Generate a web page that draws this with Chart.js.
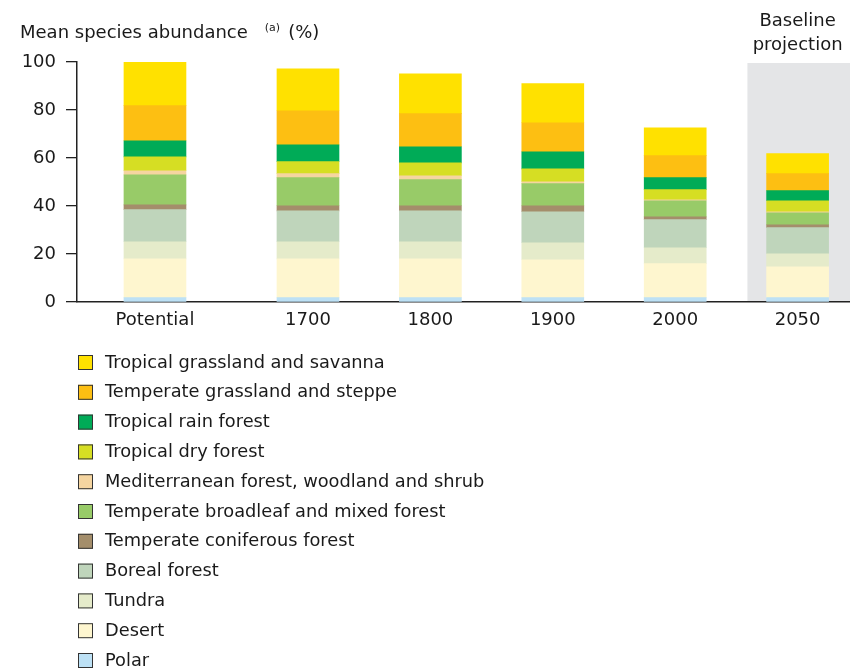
<!DOCTYPE html>
<html>
<head>
<meta charset="utf-8">
<script src="https://cdn.jsdelivr.net/npm/chart.js@4/dist/chart.umd.min.js"></script>
<style>
  body { margin: 0; background: #fff; }
  #wrap { width: 850px; height: 668px; }
</style>
</head>
<body>
<div id="wrap"><canvas id="msaChart" width="850" height="668"></canvas></div>
<script>
// Periods on the x axis
const categories = ["Potential", "1700", "1800", "1900", "2000", "2050"];

// Mean species abundance (%) per biome, bottom of the stack first
const polar       = [1.8, 1.8, 1.8, 1.8, 1.8, 1.8];
const desert      = [16.2, 16.2, 16.2, 15.8, 14.2, 12.9];
const tundra      = [7.1, 7.1, 7.1, 7.1, 6.6, 5.4];
const boreal      = [13.4, 12.9, 12.9, 12.9, 11.7, 10.9];
const coniferous  = [2.0, 2.1, 2.1, 2.5, 1.2, 1.2];
const broadleaf   = [12.5, 11.7, 10.9, 9.2, 6.7, 5.0];
const mediterran  = [1.7, 1.7, 1.6, 0.8, 0.4, 0.4];
const dryForest   = [5.8, 5.0, 5.4, 5.4, 4.2, 4.6];
const rainForest  = [6.7, 7.0, 6.7, 7.1, 5.0, 4.2];
const tempGrass   = [14.6, 14.2, 13.8, 12.1, 9.2, 7.1];
const tropGrass   = [18.2, 17.5, 16.6, 16.3, 11.6, 8.3];

const yTicks = [0, 20, 40, 60, 80, 100];

// where each period sits on the linear x axis (Potential is set a little apart)
const slots = [0, 1.25, 2.25, 3.25, 4.25, 5.25];

const FONT = "Verdana, 'DejaVu Sans', sans-serif";
const TEXT = "#1a1a1a";

const series = [
  { label: "Polar", values: polar, color: "#bde1f5" },
  { label: "Desert", values: desert, color: "#fef6cf" },
  { label: "Tundra", values: tundra, color: "#e5ebca" },
  { label: "Boreal forest", values: boreal, color: "#bfd5bb" },
  { label: "Temperate coniferous forest", values: coniferous, color: "#a48e6b" },
  { label: "Temperate broadleaf and mixed forest", values: broadleaf, color: "#98cb68" },
  { label: "Mediterranean forest, woodland and shrub", values: mediterran, color: "#f5d5a0" },
  { label: "Tropical dry forest", values: dryForest, color: "#d6de23" },
  { label: "Tropical rain forest", values: rainForest, color: "#00ab57" },
  { label: "Temperate grassland and steppe", values: tempGrass, color: "#fdbf12" },
  { label: "Tropical grassland and savanna", values: tropGrass, color: "#ffe100" }
];

const datasets = series.map(s => ({
  label: s.label,
  data: s.values.map((v, i) => ({ x: slots[i], y: v })),
  backgroundColor: s.color,
  borderWidth: 0,
  barThickness: 62,
  stack: "msa"
}));

// grey band behind the projection bar
const projectionBand = {
  id: "projectionBand",
  beforeDraw(chart) {
    const { ctx, chartArea, scales } = chart;
    const left = scales.x.getPixelForValue(slots[5] - 0.41);
    ctx.save();
    ctx.fillStyle = "#e4e5e7";
    ctx.fillRect(left, chartArea.top + 1, chartArea.right - left, chartArea.bottom - chartArea.top - 1);
    ctx.restore();
  }
};

// axis title, projection caption and the one-column legend
const annotations = {
  id: "annotations",
  afterDraw(chart) {
    const { ctx, scales } = chart;
    ctx.save();
    ctx.fillStyle = TEXT;
    ctx.textBaseline = "middle";

    ctx.font = "18px " + FONT;
    ctx.textAlign = "left";
    const main = "Mean species abundance";
    ctx.fillText(main, 20, 33);
    let x = 20 + ctx.measureText(main).width + 17;
    ctx.font = "11px " + FONT;
    ctx.fillText("(a)", x, 28);
    x += ctx.measureText("(a)").width + 8;
    ctx.font = "18px " + FONT;
    ctx.fillText("(%)", x, 33);

    ctx.textAlign = "center";
    const cx = scales.x.getPixelForValue(slots[5]);
    ctx.fillText("Baseline", cx, 21);
    ctx.fillText("projection", cx, 45);

    ctx.textAlign = "left";
    const items = series.slice().reverse();
    items.forEach((s, i) => {
      const y = 362 + i * 29.8;
      ctx.fillStyle = s.color;
      ctx.fillRect(78, y - 7, 15, 15);
      ctx.strokeStyle = "#333";
      ctx.lineWidth = 1;
      ctx.strokeRect(78.5, y - 6.5, 14, 14);
      ctx.fillStyle = TEXT;
      ctx.font = "17.8px " + FONT;
      ctx.fillText(s.label, 105, y + 1);
    });
    ctx.restore();
  }
};

new Chart(document.getElementById("msaChart"), {
  type: "bar",
  data: { datasets: datasets },
  plugins: [projectionBand, annotations],
  options: {
    responsive: false,
    animation: false,
    layout: { padding: { top: 62, right: 0, bottom: 330, left: 0 } },
    plugins: {
      legend: { display: false },
      tooltip: { enabled: false }
    },
    scales: {
      x: {
        type: "linear",
        offset: false,
        min: -0.637,
        max: 5.678,
        stacked: true,
        afterBuildTicks(scale) {
          scale.ticks = slots.map(v => ({ value: v }));
        },
        afterFit(scale) { scale.height = 36; },
        grid: { display: false, drawTicks: false },
        border: { display: true, color: "#222", width: 1.5 },
        ticks: {
          autoSkip: false,
          maxRotation: 0,
          padding: 8,
          color: TEXT,
          font: { family: FONT, size: 18 },
          callback: (v, i) => categories[i]
        }
      },
      y: {
        stacked: true,
        min: 0,
        max: 100,
        afterFit(scale) { scale.width = 77; },
        grid: { drawOnChartArea: false, drawTicks: true, tickLength: 11, color: "#222", lineWidth: 1.3 },
        border: { display: true, color: "#222", width: 1.5 },
        ticks: {
          stepSize: 10,
          padding: 10,
          color: TEXT,
          font: { family: FONT, size: 18 },
          callback: v => (yTicks.includes(v) ? v : "")
        }
      }
    }
  }
});
</script>
</body>
</html>
